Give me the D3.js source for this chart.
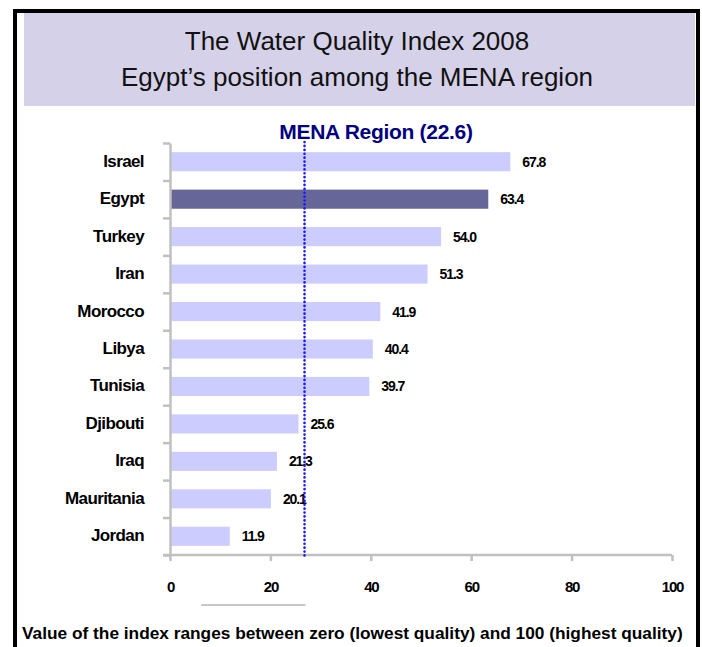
<!DOCTYPE html>
<html>
<head>
<meta charset="utf-8">
<script src="https://cdn.jsdelivr.net/npm/d3@7"></script>
<style>
  html, body { margin: 0; padding: 0; background: #fff; }
  svg { display: block; }
</style>
</head>
<body>
<svg id="chart" width="702" height="647"></svg>
<script>
const countries = ["Israel", "Egypt", "Turkey", "Iran", "Morocco", "Libya", "Tunisia", "Djibouti", "Iraq", "Mauritania", "Jordan"];
const scores = [67.8, 63.4, 54.0, 51.3, 41.9, 40.4, 39.7, 25.6, 21.3, 20.1, 11.9];
const highlight = "Egypt";
const xTicks = [0, 20, 40, 60, 80, 100];
const menaLabel = "MENA Region (22.6)";
const menaLinePos = 26.8; // where the dotted line is drawn in the picture
const titleLines = ["The Water Quality Index 2008", "Egypt\u2019s position among the MENA region"];
const footNote = "Value of the index ranges between zero (lowest quality) and 100 (highest quality)";

(() => {
    const svg = d3.select("#chart");
    const font = "'Liberation Sans', Arial, sans-serif";
    const gray = "#c0c0c0";

    // frame + title banner
    svg.append("rect")
        .attr("x", 15).attr("y", 11)
        .attr("width", 683).attr("height", 660)
        .attr("fill", "none").attr("stroke", "#000").attr("stroke-width", 4);
    svg.append("rect")
        .attr("x", 24).attr("y", 13)
        .attr("width", 671).attr("height", 93)
        .attr("fill", "#d5d1e8");
    svg.selectAll(".title")
        .data(titleLines)
        .join("text")
        .attr("class", "title")
        .attr("x", 357)
        .attr("y", (d, i) => 50 + i * 36)
        .attr("text-anchor", "middle")
        .attr("font-family", font)
        .attr("font-size", 26)
        .attr("fill", "#111")
        .text(d => d);

    const x = d3.scaleLinear().domain([0, 100]).range([170, 672]);
    const y = d3.scaleBand().domain(countries).range([143, 555])
        .paddingInner(0.49).paddingOuter(0.245);

    // bars
    svg.selectAll(".bar")
        .data(countries)
        .join("rect")
        .attr("class", "bar")
        .attr("x", x(0))
        .attr("y", d => y(d))
        .attr("width", (d, i) => x(scores[i]) - x(0))
        .attr("height", y.bandwidth())
        .attr("fill", d => d === highlight ? "#666699" : "#ccccff");

    // value labels
    svg.selectAll(".val")
        .data(countries)
        .join("text")
        .attr("class", "val")
        .attr("x", (d, i) => x(scores[i]) + 12)
        .attr("y", d => y(d) + y.bandwidth() / 2 + 5)
        .attr("font-family", font)
        .attr("font-weight", "bold")
        .attr("font-size", 14)
        .attr("letter-spacing", -1.1)
        .text((d, i) => scores[i].toFixed(1));

    // category labels
    svg.selectAll(".cat")
        .data(countries)
        .join("text")
        .attr("class", "cat")
        .attr("x", 144)
        .attr("y", d => y(d) + y.bandwidth() / 2 + 5)
        .attr("text-anchor", "end")
        .attr("font-family", font)
        .attr("font-weight", "bold")
        .attr("font-size", 17)
        .attr("letter-spacing", -0.6)
        .text(d => d);

    // y axis: ticks between categories
    const yb = d3.scaleLinear().domain([0, countries.length]).range([143, 555]);
    const yAxis = svg.append("g")
        .attr("transform", `translate(${x(0)},0)`)
        .call(d3.axisLeft(yb).ticks(countries.length).tickFormat("").tickSize(7).tickSizeOuter(0));
    yAxis.selectAll("line, path").attr("stroke", gray).attr("stroke-width", 2.5);

    // x axis
    const xAxis = svg.append("g")
        .attr("transform", `translate(0,555)`)
        .call(d3.axisBottom(x).tickValues(xTicks).tickSize(6).tickPadding(20).tickSizeOuter(0));
    xAxis.select(".domain").remove();
    xAxis.append("line")
        .attr("x1", x(0) - 7).attr("x2", x(100))
        .attr("stroke", gray).attr("stroke-width", 2.5);
    xAxis.selectAll(".tick line").attr("stroke", gray).attr("stroke-width", 2.5);
    xAxis.selectAll("text")
        .attr("fill", "#000")
        .attr("font-family", font)
        .attr("font-weight", "bold")
        .attr("font-size", 15)
        .attr("letter-spacing", -1.2);

    // stray gray stroke under the axis
    svg.append("line")
        .attr("x1", x(6.2)).attr("x2", x(27))
        .attr("y1", 605).attr("y2", 605)
        .attr("stroke", "#c8c8c8").attr("stroke-width", 2);

    // MENA average line
    svg.append("line")
        .attr("x1", x(menaLinePos)).attr("x2", x(menaLinePos))
        .attr("y1", 142).attr("y2", 559)
        .attr("stroke", "#1a1aff")
        .attr("stroke-width", 2.6)
        .attr("stroke-linecap", "round")
        .attr("stroke-dasharray", "0.1,3.8");
    svg.append("text")
        .attr("x", 376).attr("y", 139)
        .attr("text-anchor", "middle")
        .attr("font-family", font)
        .attr("font-weight", "bold")
        .attr("font-size", 21)
        .attr("letter-spacing", -0.3)
        .attr("fill", "#000080")
        .text(menaLabel);

    // footnote, sized so it fits between the frame edges
    const foot = svg.append("text")
        .attr("x", 22).attr("y", 639)
        .attr("font-family", font)
        .attr("font-weight", "bold")
        .attr("font-size", 18)
        .text(footNote);
    const natural = foot.node().getComputedTextLength();
    if (natural > 661) foot.attr("font-size", 18 * 661 / natural);
})();
</script>
</body>
</html>
